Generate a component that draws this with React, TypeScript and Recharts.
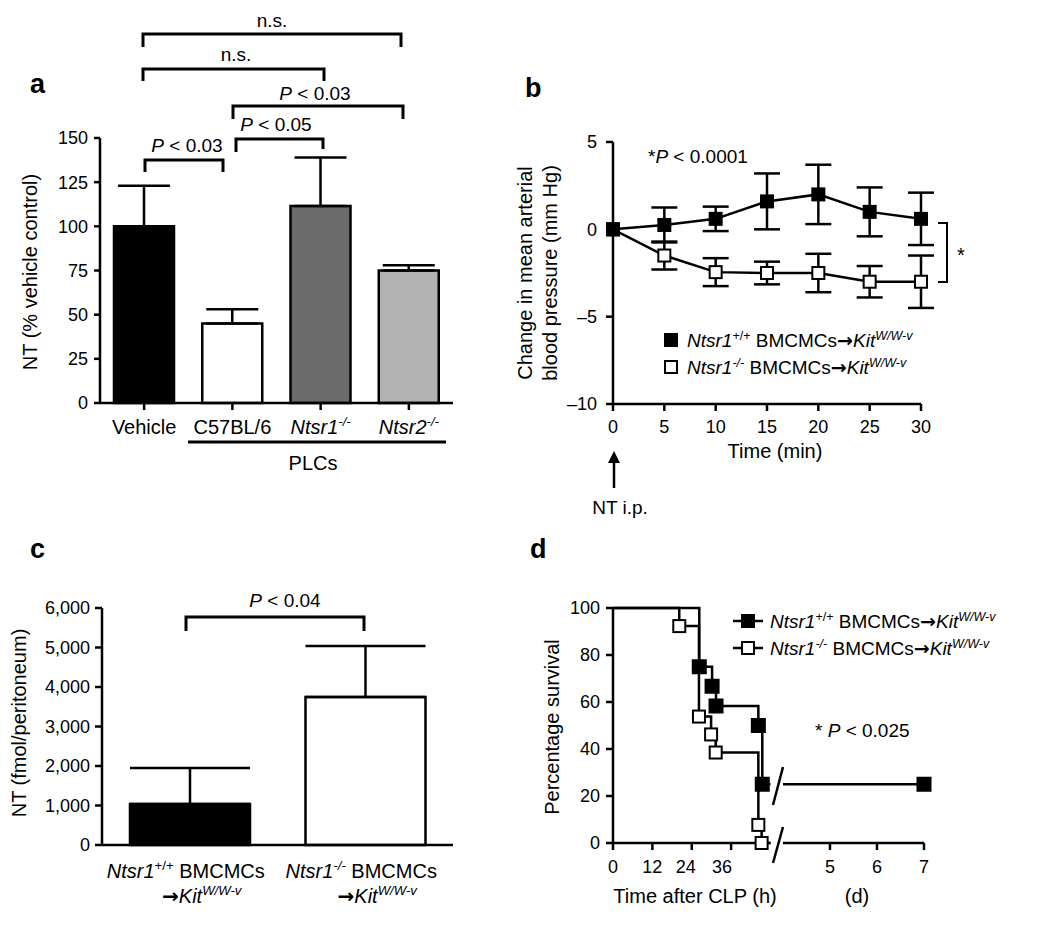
import React from 'react';
import {
  BarChart,
  Bar,
  Cell,
  XAxis,
  YAxis,
  ErrorBar,
  LineChart,
  Line,
  ReferenceLine,
} from 'recharts';

const FONT = '"Liberation Sans", Arial, Helvetica, sans-serif';
const AX = 2.5;

// ---- panel a: NT degradation by PLCs
const aGroups = ['Vehicle', 'C57BL/6', 'Ntsr1', 'Ntsr2'];
const aMeans = [100, 45, 111.5, 75];
const aSem = [23, 8, 27.5, 3];
const aFills = ['#000000', '#ffffff', '#6b6b6b', '#b3b3b3'];
const aTicks = [0, 25, 50, 75, 100, 125, 150];

// ---- panel b: blood pressure after NT i.p.
const bTimes = [0, 5, 10, 15, 20, 25, 30];
const bWT = [0, 0.25, 0.6, 1.6, 2.0, 1.0, 0.6];
const bWTErr = [0, 1.0, 0.7, 1.6, 1.7, 1.4, 1.5];
const bKO = [0, -1.5, -2.45, -2.5, -2.5, -3.0, -3.0];
const bKOErr = [0, 0.8, 0.8, 0.65, 1.1, 0.9, 1.5];
const bTicksY = [-10, -5, 0, 5];

// ---- panel c: peritoneal NT
const cGroups = ['wt', 'ko'];
const cMeans = [1040, 3750];
const cSem = [910, 1290];
const cTicks = [0, 1000, 2000, 3000, 4000, 5000, 6000];

// ---- panel d: survival after CLP
const dWTHours = [0, 26.3, 30.2, 31.4, 44.3, 45.5];
const dWTSurv = [100, 75, 66.7, 58.3, 50, 25];
const dKOHours = [0, 20.2, 26.2, 29.9, 31.3, 44.3, 45.3];
const dKOSurv = [100, 92.3, 53.8, 46.2, 38.5, 7.7, 0];
const dFollowUpDay = 7;
const dHourTicks = [0, 12, 24, 36];
const dDayTicks = [5, 6, 7];
const dTicksY = [0, 20, 40, 60, 80, 100];

// broken time axis: hours up to HOUR_END, then days from DAY_FIRST
const HOUR_END = 48;
const DAY_FIRST = 4;
const DAY_AXIS0 = 51.8;
const DAY_UNITS = 14.33;
const dayPos = (d: number) => DAY_AXIS0 + (d - DAY_FIRST) * DAY_UNITS;

type Part = { t: string; i?: boolean; sup?: boolean; sym?: boolean };

const ARROW: Part = { t: '→', sym: true };

const WT_LABEL: Part[] = [
  { t: 'Ntsr1', i: true },
  { t: '+/+', sup: true },
  { t: ' BMCMCs' },
  ARROW,
  { t: 'Kit', i: true },
  { t: 'W/W-v', i: true, sup: true },
];
const KO_LABEL: Part[] = [
  { t: 'Ntsr1', i: true },
  { t: '-/-', i: true, sup: true },
  { t: ' BMCMCs' },
  ARROW,
  { t: 'Kit', i: true },
  { t: 'W/W-v', i: true, sup: true },
];

const aLabels: Part[][] = [
  [{ t: 'Vehicle' }],
  [{ t: 'C57BL/6' }],
  [{ t: 'Ntsr1', i: true }, { t: '-/-', i: true, sup: true }],
  [{ t: 'Ntsr2', i: true }, { t: '-/-', i: true, sup: true }],
];
const cLabels: Part[][][] = [
  [
    [{ t: 'Ntsr1', i: true }, { t: '+/+', sup: true }, { t: ' BMCMCs' }],
    [ARROW, { t: 'Kit', i: true }, { t: 'W/W-v', i: true, sup: true }],
  ],
  [
    [{ t: 'Ntsr1', i: true }, { t: '-/-', i: true, sup: true }, { t: ' BMCMCs' }],
    [ARROW, { t: 'Kit', i: true }, { t: 'W/W-v', i: true, sup: true }],
  ],
];

const RichText = ({
  x,
  y,
  parts,
  size = 19,
  anchor = 'start',
  rotate = false,
  weight = 'normal',
}: {
  x: number;
  y: number;
  parts: Part[];
  size?: number;
  anchor?: string;
  rotate?: boolean;
  weight?: string;
}) => {
  let up = false;
  const shift = size * 0.38;
  return (
    <text
      x={x}
      y={y}
      fontSize={size}
      fontFamily={FONT}
      fontWeight={weight}
      textAnchor={anchor as any}
      fill="#000"
      transform={rotate ? `rotate(-90 ${x} ${y})` : undefined}
    >
      {parts.map((p, k) => {
        let dy = 0;
        if (p.sup && !up) {
          dy = -shift;
          up = true;
        } else if (!p.sup && up) {
          dy = shift;
          up = false;
        }
        return (
          <tspan
            key={k}
            dy={dy || undefined}
            fontStyle={p.i ? 'italic' : 'normal'}
            fontFamily={p.sym ? '"DejaVu Sans", sans-serif' : undefined}
            fontWeight={p.sym ? 'bold' : undefined}
            fontSize={p.sup ? size * 0.66 : size}
          >
            {p.t}
          </tspan>
        );
      })}
    </text>
  );
};

const square = (size: number, fill: string) => (p: any) => {
  const { cx, cy, index, payload } = p;
  if (payload && payload.mark === false) return <g key={`n${index}`} />;
  return (
    <rect
      key={`s${index}`}
      x={cx - size / 2}
      y={cy - size / 2}
      width={size}
      height={size}
      fill={fill}
      stroke="#000"
      strokeWidth={2}
    />
  );
};

const axisProps = {
  stroke: '#000',
  axisLine: { stroke: '#000', strokeWidth: AX },
  tickLine: { stroke: '#000', strokeWidth: AX },
  tick: { fill: '#000', fontSize: 18, fontFamily: FONT },
};

const minus = (v: number) => (v < 0 ? `\u2013${-v}` : `${v}`);

const PanelA = () => {
  const data = aGroups.map((g, i) => ({ g, mean: aMeans[i], err: [0, aSem[i]] }));
  return (
    <BarChart width={470} height={470} data={data} margin={{ top: 138, right: 17, bottom: 37, left: 0 }}>
      <XAxis
        dataKey="g"
        {...axisProps}
        height={30}
        tickSize={7}
        interval={0}
        tick={(p: any) => (
          <RichText x={p.x} y={p.y + 22} parts={aLabels[aGroups.indexOf(p.payload.value)]} size={20} anchor="middle" />
        )}
      />
      <YAxis {...axisProps} width={100} domain={[0, 150]} ticks={aTicks} tickSize={6} tickMargin={6} />
      <Bar dataKey="mean" barSize={60} stroke="#000" strokeWidth={2.5} isAnimationActive={false}>
        {data.map((d, i) => (
          <Cell key={d.g} fill={aFills[i]} />
        ))}
        <ErrorBar dataKey="err" width={26} stroke="#000" strokeWidth={2.5} direction="y" />
      </Bar>
    </BarChart>
  );
};

const PanelB = () => {
  const data = bTimes.map((t, i) => ({ t, wt: bWT[i], wtErr: bWTErr[i], ko: bKO[i], koErr: bKOErr[i] }));
  return (
    <LineChart width={550} height={420} data={data} margin={{ top: 42, right: 129, bottom: 76, left: 0 }}>
      <XAxis dataKey="t" type="number" domain={[0, 30]} ticks={bTimes} {...axisProps} height={40} tickSize={7} tickMargin={9} />
      <YAxis
        {...axisProps}
        width={113}
        domain={[-10, 5]}
        ticks={bTicksY}
        tickFormatter={minus}
        tickSize={7}
        tickMargin={9}
      />
      <Line dataKey="ko" stroke="#000" strokeWidth={2.5} dot={square(12, '#fff')} isAnimationActive={false}>
        <ErrorBar dataKey="koErr" width={13} stroke="#000" strokeWidth={2.5} direction="y" />
      </Line>
      <Line dataKey="wt" stroke="#000" strokeWidth={2.5} dot={square(12, '#000')} isAnimationActive={false}>
        <ErrorBar dataKey="wtErr" width={13} stroke="#000" strokeWidth={2.5} direction="y" />
      </Line>
    </LineChart>
  );
};

const PanelC = () => {
  const data = cGroups.map((g, i) => ({ g, mean: cMeans[i], err: [0, cSem[i]] }));
  const fills = ['#000000', '#ffffff'];
  return (
    <BarChart width={470} height={369} data={data} margin={{ top: 48, right: 17, bottom: 14, left: 0 }}>
      <XAxis
        dataKey="g"
        {...axisProps}
        tickLine={false}
        tickSize={0}
        tickMargin={0}
        height={70}
        interval={0}
        tick={(p: any) => {
          const lines = cLabels[cGroups.indexOf(p.payload.value)];
          return (
            <g>
              <RichText x={p.x - 4} y={p.y + 33} parts={lines[0]} size={20} anchor="middle" />
              <RichText x={p.x + 12} y={p.y + 58} parts={lines[1]} size={20} anchor="middle" />
            </g>
          );
        }}
      />
      <YAxis
        {...axisProps}
        width={102}
        domain={[0, 6000]}
        ticks={cTicks}
        tickFormatter={(v: number) => v.toLocaleString('en-US')}
        tickSize={7}
        tickMargin={5}
      />
      <Bar dataKey="mean" barSize={120} stroke="#000" strokeWidth={2.5} isAnimationActive={false}>
        {data.map((d, i) => (
          <Cell key={d.g} fill={fills[i]} />
        ))}
        <ErrorBar dataKey="err" width={60} stroke="#000" strokeWidth={2.5} direction="y" />
      </Bar>
    </BarChart>
  );
};

const PanelD = () => {
  const wtHour = [
    ...dWTHours.map((x, i) => ({ x, y: dWTSurv[i], mark: i > 0 })),
    { x: HOUR_END, y: dWTSurv[dWTSurv.length - 1], mark: false },
  ];
  const koHour = [
    ...dKOHours.map((x, i) => ({ x, y: dKOSurv[i], mark: i > 0 })),
    { x: HOUR_END, y: dKOSurv[dKOSurv.length - 1], mark: false },
  ];
  const last = dWTSurv[dWTSurv.length - 1];
  const wtDay = [
    { x: dayPos(DAY_FIRST), y: last, mark: false },
    { x: dayPos(dFollowUpDay), y: last, mark: true },
  ];
  const xTicks = [...dHourTicks, ...dDayTicks.map(dayPos)];
  const xLabels = [...dHourTicks, ...dDayTicks].map(String);
  // the 24 and 36 labels sit a little left of their ticks in the original
  const labelNudge = [0, 0, -6, -9, 0, 0, 0];
  const nearest = (v: number) => {
    let best = 0;
    xTicks.forEach((t, i) => {
      if (Math.abs(t - v) < Math.abs(xTicks[best] - v)) best = i;
    });
    return best;
  };
  return (
    <LineChart width={550} height={369} margin={{ top: 48, right: 126, bottom: 46, left: 0 }}>
      <XAxis
        dataKey="x"
        type="number"
        domain={[0, dayPos(dFollowUpDay)]}
        ticks={xTicks}
        interval={0}
        {...axisProps}
        axisLine={false}
        height={40}
        tickSize={7}
        tickMargin={10}
        tick={(p: any) => {
          const k = nearest(Number(p.payload.value));
          return (
            <text x={p.x + labelNudge[k]} y={p.y} dy="0.71em" textAnchor="middle" fontSize={18} fontFamily={FONT} fill="#000">
              {xLabels[k]}
            </text>
          );
        }}
      />
      <YAxis {...axisProps} width={113} domain={[0, 100]} ticks={dTicksY} tickSize={7} tickMargin={6} />
      <ReferenceLine segment={[{ x: 0, y: 0 }, { x: HOUR_END, y: 0 }]} stroke="#000" strokeWidth={AX} ifOverflow="visible" />
      <ReferenceLine
        segment={[{ x: dayPos(DAY_FIRST), y: 0 }, { x: dayPos(dFollowUpDay), y: 0 }]}
        stroke="#000"
        strokeWidth={AX}
        ifOverflow="visible"
      />
      <Line data={koHour} dataKey="y" type="stepAfter" stroke="#000" strokeWidth={2.5} dot={square(12, '#fff')} isAnimationActive={false} />
      <Line data={wtHour} dataKey="y" type="stepAfter" stroke="#000" strokeWidth={2.5} dot={square(13, '#000')} isAnimationActive={false} />
      <Line data={wtDay} dataKey="y" type="linear" stroke="#000" strokeWidth={2.5} dot={square(13, '#000')} isAnimationActive={false} />
    </LineChart>
  );
};

const Bracket = ({ x1, x2, y, d1, d2 }: { x1: number; x2: number; y: number; d1: number; d2: number }) => (
  <path d={`M${x1},${y + d1} V${y} H${x2} V${y + d2}`} fill="none" stroke="#000" strokeWidth={3} />
);

const Overlay = () => (
  <svg width={1050} height={929} style={{ position: 'absolute', left: 0, top: 0, pointerEvents: 'none' }}>
    {/* panel letters */}
    <text x={30} y={93} fontSize={27} fontWeight="bold" fontFamily={FONT}>a</text>
    <text x={525} y={97} fontSize={27} fontWeight="bold" fontFamily={FONT}>b</text>
    <text x={30} y={558} fontSize={27} fontWeight="bold" fontFamily={FONT}>c</text>
    <text x={530} y={558} fontSize={27} fontWeight="bold" fontFamily={FONT}>d</text>

    {/* panel a */}
    <Bracket x1={143} x2={401} y={34} d1={13} d2={13} />
    <RichText x={272} y={27} parts={[{ t: 'n.s.' }]} anchor="middle" />
    <Bracket x1={143} x2={324} y={69} d1={12} d2={12} />
    <RichText x={236} y={61} parts={[{ t: 'n.s.' }]} anchor="middle" />
    <Bracket x1={233} x2={403} y={106} d1={13} d2={13} />
    <RichText x={315} y={100} parts={[{ t: 'P', i: true }, { t: ' < 0.03' }]} anchor="middle" />
    <Bracket x1={236} x2={323} y={139} d1={13} d2={10} />
    <RichText x={276} y={131} parts={[{ t: 'P', i: true }, { t: ' < 0.05' }]} anchor="middle" />
    <Bracket x1={145} x2={223} y={160} d1={12} d2={12} />
    <RichText x={187} y={152} parts={[{ t: 'P', i: true }, { t: ' < 0.03' }]} anchor="middle" />
    <RichText x={37} y={272} parts={[{ t: 'NT (% vehicle control)' }]} size={20} anchor="middle" rotate />
    <line x1={188} x2={446} y1={442} y2={442} stroke="#000" strokeWidth={3} />
    <RichText x={313} y={470} parts={[{ t: 'PLCs' }]} size={20} anchor="middle" />

    {/* panel b */}
    <RichText x={648} y={163} parts={[{ t: '*' }, { t: 'P', i: true }, { t: ' < 0.0001' }]} />
    <path d="M938,223 H947 V282 H938" fill="none" stroke="#000" strokeWidth={2} />
    <RichText x={957} y={262} parts={[{ t: '*' }]} size={20} />
    <rect x={665} y={334} width={12} height={12} fill="#000" stroke="#000" strokeWidth={2} />
    <RichText x={687} y={347} parts={WT_LABEL} />
    <rect x={665} y={361} width={12} height={12} fill="#fff" stroke="#000" strokeWidth={2} />
    <RichText x={687} y={374} parts={KO_LABEL} />
    <RichText x={532} y={273} parts={[{ t: 'Change in mean arterial' }]} size={20} anchor="middle" rotate />
    <RichText x={557} y={273} parts={[{ t: 'blood pressure (mm Hg)' }]} size={20} anchor="middle" rotate />
    <RichText x={775} y={458} parts={[{ t: 'Time (min)' }]} size={20} anchor="middle" />
    <line x1={614} x2={614} y1={460} y2={488} stroke="#000" strokeWidth={2.5} />
    <path d="M608,463 L614,451 L620,463 Z" fill="#000" />
    <RichText x={620} y={514} parts={[{ t: 'NT i.p.' }]} size={19} anchor="middle" />

    {/* panel c */}
    <Bracket x1={186} x2={364} y={617} d1={14} d2={14} />
    <RichText x={285} y={607} parts={[{ t: 'P', i: true }, { t: ' < 0.04' }]} anchor="middle" />
    <RichText x={26} y={723} parts={[{ t: 'NT (fmol/peritoneum)' }]} size={20} anchor="middle" rotate />

    {/* panel d */}
    <line x1={773} y1={863} x2={783} y2={827} stroke="#000" strokeWidth={2.5} />
    <line x1={773} y1={805} x2={783} y2={767} stroke="#000" strokeWidth={2.5} />
    <line x1={733} x2={763} y1={621} y2={621} stroke="#000" strokeWidth={2.5} />
    <rect x={742} y={615} width={12} height={12} fill="#000" stroke="#000" strokeWidth={2} />
    <RichText x={770} y={628} parts={WT_LABEL} />
    <line x1={733} x2={763} y1={648} y2={648} stroke="#000" strokeWidth={2.5} />
    <rect x={742} y={642} width={12} height={12} fill="#fff" stroke="#000" strokeWidth={2} />
    <RichText x={770} y={655} parts={KO_LABEL} />
    <RichText x={815} y={737} parts={[{ t: '* ' }, { t: 'P', i: true }, { t: ' < 0.025' }]} />
    <RichText x={559} y={727} parts={[{ t: 'Percentage survival' }]} size={20} anchor="middle" rotate />
    <RichText x={695} y={903} parts={[{ t: 'Time after CLP (h)' }]} size={20} anchor="middle" />
    <RichText x={857} y={903} parts={[{ t: '(d)' }]} size={20} anchor="middle" />
  </svg>
);

export default function App() {
  return (
    <div style={{ position: 'absolute', left: 0, top: 0, width: 1050, height: 929, background: '#fff', fontFamily: FONT }}>
      <div style={{ position: 'absolute', left: 0, top: 0 }}>
        <PanelA />
      </div>
      <div style={{ position: 'absolute', left: 500, top: 100 }}>
        <PanelB />
      </div>
      <div style={{ position: 'absolute', left: 0, top: 560 }}>
        <PanelC />
      </div>
      <div style={{ position: 'absolute', left: 500, top: 560 }}>
        <PanelD />
      </div>
      <Overlay />
    </div>
  );
}
